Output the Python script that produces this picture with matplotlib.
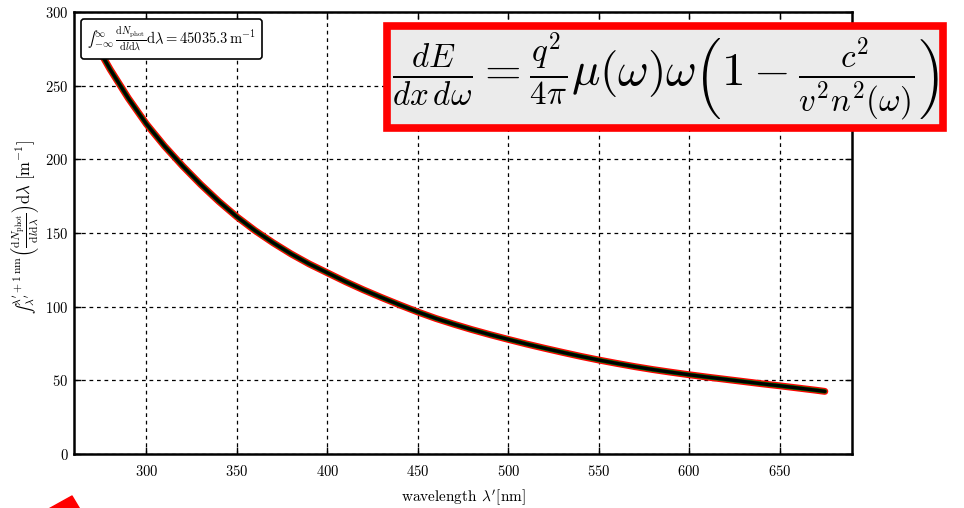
import numpy as np
import matplotlib
matplotlib.use("Agg")
import matplotlib.pyplot as plt

plt.rcParams['font.family'] = 'serif'
plt.rcParams['font.serif'] = ['cmr10', 'DejaVu Serif']
plt.rcParams['mathtext.fontset'] = 'cm'
plt.rcParams['axes.unicode_minus'] = False
plt.rcParams['axes.formatter.use_mathtext'] = True

# photon yield per 1 nm bin
lam = np.array([270, 280, 290, 300, 310, 320, 330, 340, 350, 360, 370, 380, 390,
                400, 410, 420, 430, 440, 450, 460, 470, 480, 490, 500, 510, 520,
                530, 540, 550, 560, 570, 580, 590, 600, 610, 620, 630, 640, 650,
                660, 670, 675])
yld = np.array([282.5, 261, 241.5, 224, 209, 195.5, 183, 171.5, 161, 151.7, 143.4,
                135.8, 129.0, 123.0, 117.0, 111.4, 106.2, 101.2, 96.4, 92.0, 88.1,
                84.4, 81.0, 77.8, 74.7, 71.8, 69.0, 66.3, 63.8, 61.5, 59.3, 57.3,
                55.5, 53.8, 52.2, 50.7, 49.2, 47.7, 46.3, 44.8, 43.3, 42.5])
xticks = [300, 350, 400, 450, 500, 550, 600, 650]
yticks = [0, 50, 100, 150, 200, 250, 300]
total = 45035.3

fig = plt.figure(figsize=(9.64, 5.08), dpi=100)
ax = fig.add_axes([0.0768, 0.1063, 0.807, 0.870])

ax.plot(lam, yld, color='red', lw=5.0, solid_capstyle='round')
ax.plot(lam, yld, color='green', lw=3.2, solid_capstyle='round')
line, = ax.plot(lam, yld, color='black', lw=2.4, solid_capstyle='round')

ax.set_xlim(260, 690)
ax.set_ylim(0, 300)
ax.set_xticks(xticks)
ax.set_yticks(yticks)
ax.grid(True, color='k', linestyle=(0, (3, 3)), lw=0.9)
ax.tick_params(direction='in', length=5, width=1, labelsize=10.5, pad=7,
               top=True, right=True)
ax.tick_params(axis='y', pad=4)
for s in ax.spines.values():
    s.set_linewidth(1.8)

ax.set_xlabel(r"wavelength $\lambda'$[nm]", fontsize=11, labelpad=6)
ax.set_ylabel(r"$∫_{\lambda'}^{\lambda'+1\,\mathrm{nm}}\left(\frac{\mathrm{d}N_{\mathrm{phot}}}"
              r"{\mathrm{d}l\mathrm{d}\lambda}\right)\mathrm{d}\lambda\ [\mathrm{m}^{-1}]$",
              fontsize=12)
ax.yaxis.set_label_coords(-0.042, 0.514)

leg = ax.legend([line], [r"$∫_{-\infty}^{\infty}\,\frac{\mathrm{d}N_{\mathrm{phot}}}"
                         r"{\mathrm{d}l\mathrm{d}\lambda}\mathrm{d}\lambda = %.1f\,\mathrm{m}^{-1}$" % total],
                loc='upper left', handlelength=0, handletextpad=0, fancybox=True,
                framealpha=1, edgecolor='k', fontsize=10.5, borderaxespad=0.5)
leg.get_frame().set_linewidth(1.2)

# energy loss formula box
fig.text(0.690, 0.849,
         r"$\frac{dE}{dx\,d\omega}=\frac{q^2}{4\pi}\mu(\omega)\omega\left(1-\frac{c^2}{v^2n^2(\omega)}\right)$",
         fontsize=34, ha='center', va='center', zorder=10,
         bbox=dict(boxstyle='square,pad=0.1', facecolor='#ebebeb', edgecolor='red', lw=5.5))

# red arrow coming up from below the figure edge
ax.annotate('', xy=(72, 12), xycoords='figure pixels',
            xytext=(50, -70), textcoords='figure pixels',
            arrowprops=dict(facecolor='red', edgecolor='red', width=12, headwidth=31,
                            headlength=15), annotation_clip=False)

fig.savefig('out.png', dpi=100)
